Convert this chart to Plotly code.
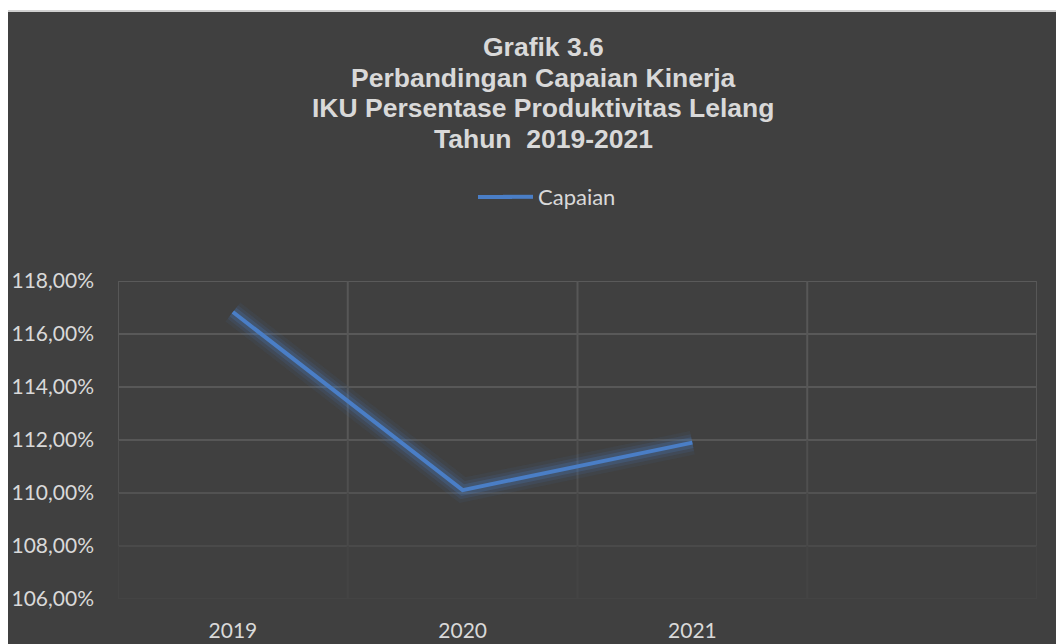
import plotly.graph_objects as go

# ---- data ----
categories = ["2019", "2020", "2021", " "]
capaian = [116.83, 110.11, 111.90, None]
y_ticks = [106, 108, 110, 112, 114, 116, 118]
y_ticktext = [f"{v:.2f}".replace(".", ",") + "%" for v in y_ticks]
title_lines = [
    "Grafik 3.6",
    "Perbandingan Capaian Kinerja",
    "IKU Persentase Produktivitas Lelang",
    "Tahun  2019-2021",
]
series_name = "Capaian"

# page has an 8px body margin: figure sits at (8, 8)
OFF = 8
W, H = 1064 - OFF, 644 - OFF
L, R, T, B = 118 - OFF, 27, 281 - OFF, H - (599 - OFF)
pw, ph = W - L - R, H - T - B

def px_x(x):  # page x -> paper
    return (x - OFF - L) / pw

def px_y(y):  # page y -> paper
    return (H - B - (y - OFF)) / ph

BG = "#404040"
TXT = "#d9d9d9"
LINE = "#4A7EC6"
FONT = "Lato"

fig = go.Figure()

# glow layers
for w, a in [(24, 0.07), (17, 0.12), (11, 0.22)]:
    fig.add_trace(go.Scatter(
        x=categories, y=capaian, mode="lines",
        line=dict(color=f"rgba(74,126,198,{a})", width=w),
        showlegend=False, hoverinfo="skip",
    ))

fig.add_trace(go.Scatter(
    x=categories, y=capaian, mode="lines", name=series_name,
    line=dict(color=LINE, width=4),
))

# horizontal gridlines (fading toward bottom)
grid_cols = {118: "#5a5a5a", 116: "#595959", 114: "#585858", 112: "#575757",
             110: "#525252", 108: "#4a4a4a", 106: "#444444"}
for v in y_ticks:
    fig.add_shape(type="line", xref="paper", yref="y", layer="below",
                  x0=0, x1=1, y0=v, y1=v,
                  line=dict(color=grid_cols[v], width=2))

# vertical gridlines at category boundaries (fading toward bottom)
segs = [(112, 118, "#575757"), (110, 112, "#4f4f4f"), (108, 110, "#494949"), (106, 108, "#444444")]
for i in range(len(categories) + 1):
    for y0, y1, c in segs:
        fig.add_shape(type="line", xref="x", yref="y", layer="below",
                      x0=i - 0.5, x1=i - 0.5, y0=y0, y1=y1,
                      line=dict(color=c, width=2))

# top white strip + light border (page y 0..12)
fig.add_shape(type="rect", xref="paper", yref="paper", layer="below",
              x0=px_x(0), x1=px_x(1070), y0=px_y(10), y1=px_y(-5),
              fillcolor="white", line=dict(width=0))
fig.add_shape(type="line", xref="paper", yref="paper", layer="below",
              x0=px_x(0), x1=px_x(1070), y0=px_y(11), y1=px_y(11),
              line=dict(color="#d0d0d0", width=2))

# title lines
title_y = [47, 78, 108.5, 139]
for txt, yy in zip(title_lines, title_y):
    fig.add_annotation(text=f"<b>{txt}</b>", xref="paper", yref="paper",
                       x=px_x(543), y=px_y(yy), xanchor="center", yanchor="middle",
                       showarrow=False,
                       font=dict(family="Liberation Sans, Arial", size=26.5, color=TXT))

# longer legend key line (Excel style)
fig.add_shape(type="line", xref="paper", yref="paper",
              x0=px_x(478), x1=px_x(512), y0=px_y(197), y1=px_y(197),
              line=dict(color=LINE, width=4))

fig.update_layout(
    width=W, height=H,
    margin=dict(l=L, r=R, t=T, b=B, pad=0, autoexpand=False),
    paper_bgcolor=BG,
    plot_bgcolor=BG,
    showlegend=True,
    legend=dict(orientation="h", x=px_x(498), y=px_y(197),
                xanchor="left", yanchor="middle",
                font=dict(family=FONT, size=22, color=TXT),
                bgcolor="rgba(0,0,0,0)"),
    xaxis=dict(
        type="category", categoryorder="array", categoryarray=categories,
        range=[-0.5, len(categories) - 0.5], automargin=False,
        showgrid=False, ticks="", showline=False, zeroline=False,
        tickfont=dict(family=FONT, size=21, color=TXT),
        ticklabelstandoff=17,
    ),
    yaxis=dict(
        range=[106, 118], tickvals=y_ticks, ticktext=y_ticktext, automargin=False,
        showgrid=False, ticks="", showline=False, zeroline=False,
        tickfont=dict(family=FONT, size=21, color=TXT),
        ticklabelstandoff=23,
    ),
)

fig.write_html("out.html", config={"displayModeBar": False})
